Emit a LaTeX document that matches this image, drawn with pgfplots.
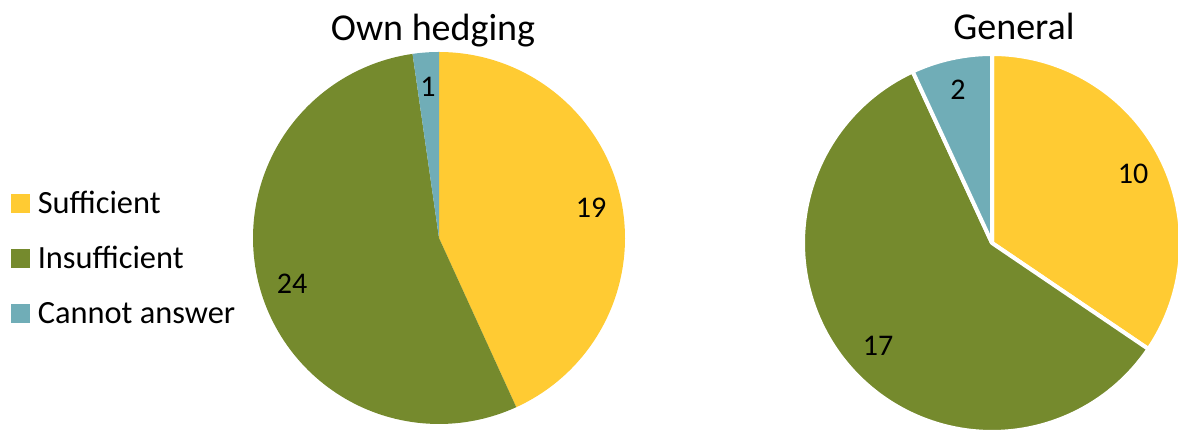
\documentclass[border=0pt]{standalone}
\usepackage{fontspec}
\setmainfont{Carlito}
\usepackage{pgfplots}
\pgfplotsset{compat=1.18}
\definecolor{cSuf}{HTML}{FFCB33}
\definecolor{cIns}{HTML}{758A2D}
\definecolor{cCan}{HTML}{70ADB7}
% data
\def\OwnSuf{19}\def\OwnIns{24}\def\OwnCan{1}
\def\GenSuf{10}\def\GenIns{17}\def\GenCan{2}
\begin{document}
\begin{tikzpicture}
\pgfmathsetmacro\OwnTot{\OwnSuf+\OwnIns+\OwnCan}
\pgfmathsetmacro\OA{90-360*\OwnSuf/\OwnTot}
\pgfmathsetmacro\OB{\OA-360*\OwnIns/\OwnTot}
\pgfmathsetmacro\GenTot{\GenSuf+\GenIns+\GenCan}
\pgfmathsetmacro\GA{90-360*\GenSuf/\GenTot}
\pgfmathsetmacro\GB{\GA-360*\GenIns/\GenTot}
\begin{axis}[at={(0,0)}, anchor=south west, scale only axis,
  width=589pt, height=216pt, xmin=0, xmax=1178, ymin=0, ymax=432,
  hide axis, clip=true,
  legend cell align=left,
  legend style={draw=none, fill=none, inner sep=0pt, outer sep=0pt,
    at={(11/1178,174/432)}, anchor=west, row sep=17.3pt, column sep=4pt,
    font=\fontsize{16.2}{19}\selectfont,
    nodes={inner sep=0pt, text height=10.2pt, text depth=0pt}},
]
% Own hedging pie (no borders)
\addplot[forget plot, fill=cSuf, draw=none, domain=\OA:90, samples=120, variable=\t]
  ({439+186*cos(\t)}, {194+186*sin(\t)}) -- (439,194) -- cycle;
\addplot[forget plot, fill=cIns, draw=none, domain=\OB:\OA, samples=120, variable=\t]
  ({439+186*cos(\t)}, {194+186*sin(\t)}) -- (439,194) -- cycle;
\addplot[forget plot, fill=cCan, draw=none, domain=-270:\OB, samples=20, variable=\t]
  ({439+186*cos(\t)}, {194+186*sin(\t)}) -- (439,194) -- cycle;
% General pie (white borders)
\addplot[forget plot, fill=cSuf, draw=white, line width=2pt, line join=round, domain=\GA:90, samples=120, variable=\t]
  ({992+189*cos(\t)}, {189+189*sin(\t)}) -- (992,189) -- cycle;
\addplot[forget plot, fill=cIns, draw=white, line width=2pt, line join=round, domain=\GB:\GA, samples=120, variable=\t]
  ({992+189*cos(\t)}, {189+189*sin(\t)}) -- (992,189) -- cycle;
\addplot[forget plot, fill=cCan, draw=white, line width=2pt, line join=round, domain=-270:\GB, samples=40, variable=\t]
  ({992+189*cos(\t)}, {189+189*sin(\t)}) -- (992,189) -- cycle;
% legend
\addlegendimage{legend image code/.code={\fill[cSuf] (0pt,-4.5pt) rectangle (9pt,4.5pt);}}
\addlegendentry{Sufficient}
\addlegendimage{legend image code/.code={\fill[cIns] (0pt,-4.5pt) rectangle (9pt,4.5pt);}}
\addlegendentry{Insufficient}
\addlegendimage{legend image code/.code={\fill[cCan] (0pt,-4.5pt) rectangle (9pt,4.5pt);}}
\addlegendentry{Cannot answer}
% data labels
\begin{scope}[font=\fontsize{15}{18}\selectfont]
\node at (591,224) {\OwnSuf};
\node at (292,148) {\OwnIns};
\node at (428,345) {\OwnCan};
\node at (1133,258) {\GenSuf};
\node at (878,86) {\GenIns};
\node at (958,342) {\GenCan};
\end{scope}
% titles
\node[anchor=base, font=\fontsize{19}{23}\selectfont] at (433,391) {Own hedging};
\node[anchor=base, font=\fontsize{19}{23}\selectfont] at (1014,392) {General};
\end{axis}
\pgfresetboundingbox
\useasboundingbox (0,0) rectangle (589pt,216pt);
\end{tikzpicture}
\end{document}
